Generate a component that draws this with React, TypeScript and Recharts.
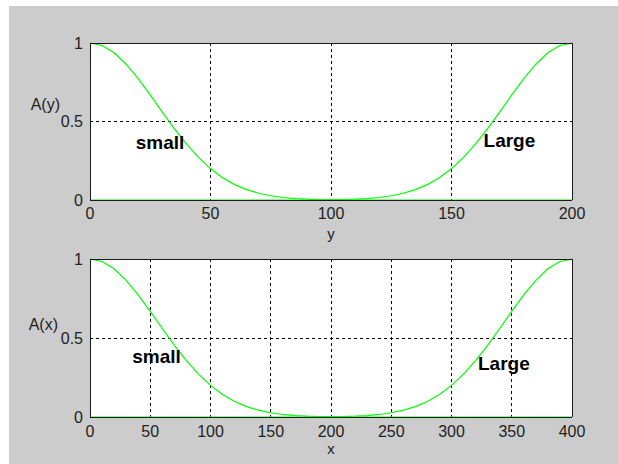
import React from "react";
import {
  LineChart,
  Line,
  XAxis,
  YAxis,
  CartesianGrid,
  ReferenceDot,
} from "recharts";

// ---- data ----
const topPositions = [
  0, 5, 10, 15, 20, 25, 30, 35, 40, 45, 50, 55, 60, 65, 70, 75, 80, 85, 90, 95,
  100, 105, 110, 115, 120, 125, 130, 135, 140, 145, 150, 155, 160, 165, 170,
  175, 180, 185, 190, 195, 200,
];
const topSmall = [
  1, 0.984, 0.938, 0.865, 0.773, 0.669, 0.56, 0.454, 0.357, 0.271, 0.2, 0.142,
  0.098, 0.066, 0.043, 0.027, 0.016, 0.009, 0.005, 0.003, 0.002, 0, 0, 0, 0, 0,
  0, 0, 0, 0, 0, 0, 0, 0, 0, 0, 0, 0, 0, 0, 0,
];
const topLarge = [
  0, 0, 0, 0, 0, 0, 0, 0, 0, 0, 0, 0, 0, 0, 0, 0, 0, 0, 0, 0, 0.002, 0.003,
  0.005, 0.009, 0.016, 0.027, 0.043, 0.066, 0.098, 0.142, 0.2, 0.271, 0.357,
  0.454, 0.56, 0.669, 0.773, 0.865, 0.938, 0.984, 1,
];

const bottomPositions = [
  0, 10, 20, 30, 40, 50, 60, 70, 80, 90, 100, 110, 120, 130, 140, 150, 160, 170,
  180, 190, 200, 210, 220, 230, 240, 250, 260, 270, 280, 290, 300, 310, 320,
  330, 340, 350, 360, 370, 380, 390, 400,
];
const bottomSmall = [
  1, 0.984, 0.938, 0.865, 0.773, 0.669, 0.56, 0.454, 0.357, 0.271, 0.2, 0.142,
  0.098, 0.066, 0.043, 0.027, 0.016, 0.009, 0.005, 0.003, 0.002, 0, 0, 0, 0, 0,
  0, 0, 0, 0, 0, 0, 0, 0, 0, 0, 0, 0, 0, 0, 0,
];
const bottomLarge = [
  0, 0, 0, 0, 0, 0, 0, 0, 0, 0, 0, 0, 0, 0, 0, 0, 0, 0, 0, 0, 0.002, 0.003,
  0.005, 0.009, 0.016, 0.027, 0.043, 0.066, 0.098, 0.142, 0.2, 0.271, 0.357,
  0.454, 0.56, 0.669, 0.773, 0.865, 0.938, 0.984, 1,
];

const topXTicks = [0, 50, 100, 150, 200];
const bottomXTicks = [0, 50, 100, 150, 200, 250, 300, 350, 400];
const yTicks = [0, 0.5, 1];

// annotation positions (data coords: left x, baseline y)
const topSmallLabel = { x: 19, y: 0.325, text: "small" };
const topLargeLabel = { x: 163.3, y: 0.34, text: "Large" };
const bottomSmallLabel = { x: 35, y: 0.343, text: "small" };
const bottomLargeLabel = { x: 322, y: 0.295, text: "Large" };

const FONT = "'Liberation Sans', Arial, Helvetica, sans-serif";
const GREEN = "#00ff00";
const AXIS = "#1a1a1a";

type PanelProps = {
  positions: number[];
  small: number[];
  large: number[];
  xTicks: number[];
  xMax: number;
  xTitle: string;
  yTitle: string;
  labels: { x: number; y: number; text: string }[];
  height: number;
  marginTop: number;
  xAxisHeight: number;
  tickGap: number;
  xTitleBaseline: number;
  yTitleBaseline: number;
  yTitleRight: number;
};

function Panel(p: PanelProps) {
  const data = p.positions.map((pos, i) => ({
    pos,
    small: p.small[i],
    large: p.large[i],
  }));
  const tickStyle = { fontSize: 16, fontFamily: FONT, fill: "#222" };
  const textShape = (text: string) => (props: any) => (
    <text
      x={props.cx}
      y={props.cy}
      fontFamily={FONT}
      fontSize={19}
      fontWeight="bold"
      fill="#000"
    >
      {text}
    </text>
  );
  return (
    <LineChart
      width={609}
      height={p.height}
      data={data}
      margin={{ top: p.marginTop - 1, right: 45, bottom: 0, left: 41 }}
    >
      <CartesianGrid
        stroke="#000"
        strokeDasharray="3 3"
        fill="#ffffff"
        fillOpacity={1}
      />
      <XAxis
        dataKey="pos"
        type="number"
        domain={[0, p.xMax]}
        ticks={p.xTicks}
        height={p.xAxisHeight}
        tickSize={0}
        tickMargin={p.tickGap}
        tick={tickStyle}
        axisLine={{ stroke: AXIS }}
        interval={0}
        label={{
          content: () => (
            <text
              x={81 + 241}
              y={p.xTitleBaseline}
              textAnchor="middle"
              fontFamily={FONT}
              fontSize={15}
              fill="#222"
            >
              {p.xTitle}
            </text>
          ),
        }}
      />
      <XAxis
        xAxisId="top"
        orientation="top"
        type="number"
        dataKey="pos"
        domain={[0, p.xMax]}
        height={1}
        tick={false}
        tickLine={false}
        axisLine={{ stroke: AXIS }}
      />
      <YAxis
        type="number"
        domain={[0, 1]}
        ticks={yTicks}
        width={40}
        tickSize={0}
        tickMargin={7}
        tick={tickStyle}
        axisLine={{ stroke: AXIS }}
        interval={0}
        label={{
          content: () => (
            <text
              x={p.yTitleRight}
              y={p.yTitleBaseline}
              textAnchor="end"
              fontFamily={FONT}
              fontSize={16}
              fill="#222"
            >
              {p.yTitle}
            </text>
          ),
        }}
      />
      <YAxis
        yAxisId="right"
        orientation="right"
        type="number"
        domain={[0, 1]}
        width={1}
        tick={false}
        tickLine={false}
        axisLine={{ stroke: AXIS }}
      />
      <Line
        dataKey="small"
        stroke={GREEN}
        strokeWidth={1.2}
        dot={false}
        isAnimationActive={false}
      />
      <Line
        dataKey="large"
        stroke={GREEN}
        strokeWidth={1.2}
        dot={false}
        isAnimationActive={false}
      />
      {p.labels.map((l) => (
        <ReferenceDot
          key={l.text}
          x={l.x}
          y={l.y}
          r={0}
          shape={textShape(l.text)}
        />
      ))}
    </LineChart>
  );
}

const crispCss =
  ".recharts-cartesian-grid line, .recharts-cartesian-axis-line { shape-rendering: crispEdges; }";

export default function App() {
  return (
    <div
      style={{
        position: "absolute",
        left: 9,
        top: 6,
        width: 609,
        height: 458,
        background: "#cccccc",
        overflow: "hidden",
      }}
    >
      <style>{crispCss}</style>
      <div style={{ position: "absolute", left: 0, top: 0 }}>
        <Panel
          positions={topPositions}
          small={topSmall}
          large={topLarge}
          xTicks={topXTicks}
          xMax={200}
          xTitle="y"
          yTitle="A(y)"
          labels={[topSmallLabel, topLargeLabel]}
          height={244}
          marginTop={37}
          xAxisHeight={50}
          tickGap={8}
          xTitleBaseline={233}
          yTitleBaseline={104}
          yTitleRight={51}
        />
      </div>
      <div style={{ position: "absolute", left: 0, top: 244 }}>
        <Panel
          positions={bottomPositions}
          small={bottomSmall}
          large={bottomLarge}
          xTicks={bottomXTicks}
          xMax={400}
          xTitle="x"
          yTitle="A(x)"
          labels={[bottomSmallLabel, bottomLargeLabel]}
          height={214}
          marginTop={9}
          xAxisHeight={47}
          tickGap={9}
          xTitleBaseline={204}
          yTitleBaseline={80}
          yTitleRight={49}
        />
      </div>
    </div>
  );
}
